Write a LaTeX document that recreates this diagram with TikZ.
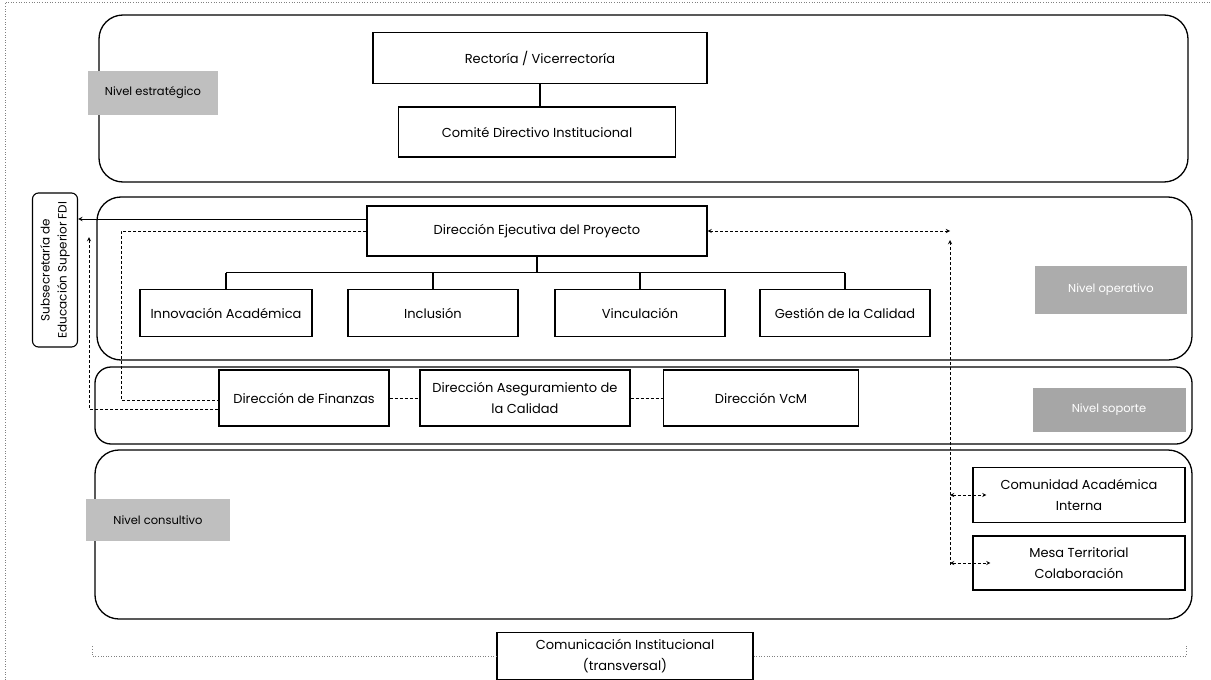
\documentclass[tikz,border=0pt]{standalone}
\usepackage{fontspec}
\setmainfont{Poppins}
\usepackage{tikz}
\usetikzlibrary{positioning, arrows.meta, calc}

\begin{document}
\begin{tikzpicture}[x=1pt, y=-1pt,
        block/.style={rectangle, draw, line width=1.1pt, text centered, align=center, font=\fontsize{13}{21}\selectfont},
        band/.style={draw, line width=1.3pt, rounded corners=24pt},
        nivel/.style={rectangle, fill=gray!50, inner sep=0pt, font=\fontsize{11.5}{13}\selectfont},
        arrow/.style={->, >=stealth, line width=1pt},
        link/.style={line width=0.9pt, dash pattern=on 3pt off 2pt},
        faint/.style={gray, line width=0.6pt, dotted}
    ]
        \useasboundingbox (0,0) rectangle (1211,680);
        % page frame
        \draw[faint] (5,680) -- (5,2) -- (1211,2);

        % Levels
        \draw[band] (99,15) rectangle (1188,182);
        \draw[band] (97,197) rectangle (1192,360);
        \draw[band, rounded corners=16pt] (95,367) rectangle (1192,444);
        \draw[band] (95,450) rectangle (1192,619);

        % Nivel estrategico
        \node[block, minimum width=334, minimum height=51] (rector) at (540,58) {Rectoría / Vicerrectoría};
        \node[block, minimum width=277, minimum height=50] (comite) at (537,132) {Comité Directivo Institucional};
        \draw[line width=1.1pt] (rector.south) -- (rector.south |- comite.north);

        % Nivel operativo
        \node[block, minimum width=340, minimum height=50] (ejec) at (537,231) {Dirección Ejecutiva del Proyecto};
        \node[block, minimum width=172, minimum height=47] (innov) at (226,313) {Innovación Académica};
        \node[block, minimum width=170, minimum height=47] (inclu) at (433,313) {Inclusión};
        \node[block, minimum width=170, minimum height=47] (vincu) at (640,313) {Vinculación};
        \node[block, minimum width=170, minimum height=47] (gestion) at (845,313) {Gestión de la Calidad};
        \draw[line width=1.1pt] (ejec.south) -- ++(0,16) coordinate (bus);
        \draw[line width=1.1pt] (bus -| innov.north) -- (bus -| gestion.north);
        \foreach \n in {innov, inclu, vincu, gestion}
            \draw[line width=1.1pt] (bus -| \n.north) -- (\n.north);

        % Nivel soporte
        \node[block, minimum width=170, minimum height=56] (finanzas) at (304,398) {Dirección de Finanzas};
        \node[block, minimum width=210, minimum height=56, inner sep=1pt] (asegura) at (525,398) {Dirección Aseguramiento de\\ la Calidad};
        \node[block, minimum width=195, minimum height=56] (vcm) at (761,398) {Dirección VcM};
        \draw[link] (finanzas) -- (asegura);
        \draw[link] (asegura) -- (vcm);

        % Nivel consultivo
        \node[block, minimum width=212, minimum height=55, inner sep=1pt] (comunidad) at (1079,495) {Comunidad Académica\\ Interna};
        \node[block, minimum width=212, minimum height=54, inner sep=1pt] (mesa) at (1079,563) {Mesa Territorial\\ Colaboración};

        % Transversal
        \node[block, minimum width=256, minimum height=47, inner sep=1pt] (comunic) at (625,656) {Comunicación Institucional\\ (transversal)};
        \draw[faint] (comunic.west) -- (92,656) -- ++(0,-10);
        \draw[faint] (comunic.east) -- (1186,656) -- ++(0,-10);

        % Subsecretaria
        \node[block, rotate=90, rounded corners=6pt, inner sep=1pt, minimum width=154, minimum height=45, font=\fontsize{12}{17}\selectfont] (subse) at (55,270) {Subsecretaría de\\ Educación Superior FDI};

        % Level labels
        \node[nivel, minimum width=130, minimum height=44] (lestr) at (153,93) {Nivel estratégico};
        \node[nivel, fill=gray!65, text=white, minimum width=152, minimum height=48] (loper) at (1111,290) {Nivel operativo};
        \node[nivel, fill=gray!70, text=white, minimum width=153, minimum height=44] (lsop) at (1109,410) {Nivel soporte};
        \node[nivel, minimum width=144, minimum height=42] (lcons) at (158,520) {Nivel consultivo};

        % Reporting lines
        \draw[arrow] ([yshift=12pt]ejec.west) -- ([yshift=12pt]ejec.west -| subse.south);
        \draw[link] (ejec.west) -- ++(-245,0) |- ([yshift=-2pt]finanzas.west);
        \coordinate (retro) at (89,237);
        \draw[link, ->, >=stealth] ([yshift=-11pt]finanzas.west) -| (retro);

        % Links to consultative level
        \coordinate (nodo) at (950,231);
        \coordinate (bajo) at (950,565);
        \draw[link, <->, >=stealth] (ejec.east) -- (nodo);
        \draw[link, ->, >=stealth] (bajo) -- ([yshift=-9pt]nodo);
        \draw[link, <->, >=stealth] (comunidad.west -| nodo) -- ([xshift=14pt]comunidad.west);
        \draw[link, <->, >=stealth] (mesa.west -| nodo) -- ([xshift=18pt]mesa.west);
    \end{tikzpicture}
\end{document}
